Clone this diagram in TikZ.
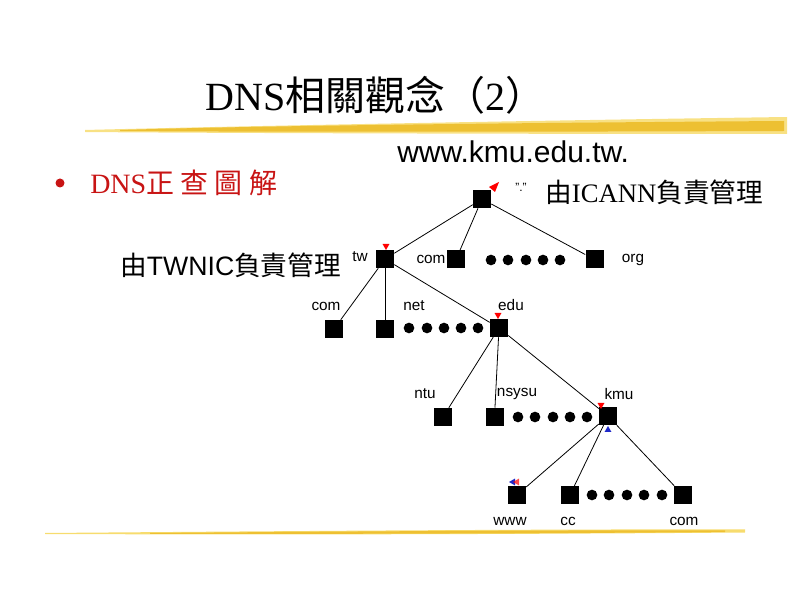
\documentclass[tikz,border=0pt]{standalone}
\usepackage{fontspec}
\usepackage{tikz}
\usetikzlibrary{positioning,shapes.geometric}
\setmainfont{Liberation Serif}
\setsansfont{Liberation Sans}
\newfontfamily\cjk{Noto Sans CJK TC}
\definecolor{titlered}{RGB}{200,20,20}
\definecolor{brushgold}{RGB}{236,186,36}
\definecolor{brushlight}{RGB}{247,220,110}
\definecolor{tipblue}{RGB}{30,40,200}
\newcommand{\zh}[1]{{\cjk #1}}
\tikzset{
  dom/.style={rectangle,fill=black,minimum size=13.5pt,inner sep=0pt},
  bead/.style={circle,fill=black,minimum size=8pt,inner sep=0pt},
  lab/.style={font=\sffamily\fontsize{11.5}{13}\selectfont,inner sep=0pt},
  note/.style={font=\fontsize{20}{24}\selectfont,anchor=west,inner sep=0pt},
  tipdown/.style={regular polygon,regular polygon sides=3,shape border rotate=180,fill=#1,minimum size=6pt,inner sep=0pt},
  tipup/.style={regular polygon,regular polygon sides=3,fill=#1,minimum size=6pt,inner sep=0pt},
  edge/.style={line width=0.6pt}
}
\begin{document}
\begin{tikzpicture}[x=0.75pt,y=-0.75pt]
  \useasboundingbox (0,0) rectangle (794,595);
  % brush strokes
  \fill[brushlight,opacity=0.85] (85,130) .. controls (200,127) and (500,121) .. (787,117) -- (787,134) .. controls (500,134) and (200,133) .. (85,132) -- cycle;
  \fill[brushgold,opacity=0.85] (120,130) .. controls (250,126) and (500,123) .. (784,121) -- (784,131) .. controls (500,132) and (250,132) .. (120,131) -- cycle;
  \fill[brushlight] (45,533) .. controls (300,531) and (550,529) .. (745,529.5) -- (745,532.5) .. controls (550,534) and (300,535) .. (45,534) -- cycle;
  \fill[brushgold,opacity=0.8] (150,533) .. controls (400,531) and (600,530) .. (725,530.5) -- (725,532) .. controls (600,533) and (400,534) .. (150,534) -- cycle;
  % texts
  \node[note,font=\fontsize{30}{34}\selectfont] (title) at (205,95) {DNS\zh{相關觀念（}2\zh{）}};
  \fill[titlered] (60,183) circle (4.5);
  \node[note,text=titlered,font=\fontsize{21}{24}\selectfont] (topic) at (90,183) {DNS\zh{正 查 圖 解}};
  \node[note,font=\sffamily\fontsize{22.5}{26}\selectfont] (query) at (397,152) {www.kmu.edu.tw.};
  \node[note] (icann) at (545,192) {\zh{由}ICANN\zh{負責管理}};
  \node[note] (twnic) at (120,265) {\zh{由}\textsf{TWNIC}\zh{負責管理}};
  % tree
  \node[dom] (root) at (482,199) {};
  \node[dom] (tw) at (385,259) {}; \node[dom] (com) at (456,259.5) {}; \node[dom] (org) at (594.5,259.5) {};
  \node[dom] (twcom) at (334,329) {}; \node[dom] (net) at (385,329) {}; \node[dom] (edu) at (499,328) {};
  \node[dom] (ntu) at (443,417) {}; \node[dom] (nsysu) at (494.5,417) {}; \node[dom] (kmu) at (608,416) {};
  \node[dom] (www) at (517,495) {}; \node[dom] (cc) at (570,495) {}; \node[dom] (kmucom) at (683,495) {};
  \foreach \x [count=\i] in {491,508,526,543,560} \node[bead] (a\i) at (\x,260) {};
  \foreach \x [count=\i] in {409,427,444,461,478} \node[bead] (b\i) at (\x,328) {};
  \foreach \x [count=\i] in {518,535,553,570,587} \node[bead] (c\i) at (\x,417) {};
  \foreach \x [count=\i] in {592,609,627,644,662} \node[bead] (d\i) at (\x,495) {};
  \draw[edge] (root) -- (tw); \draw[edge] (root) -- (com); \draw[edge] (root) -- (org);
  \draw[edge] (tw) -- (twcom); \draw[edge] (tw) -- (net); \draw[edge] (tw) -- (edu);
  \draw[edge] (edu) -- (ntu); \draw[edge] (edu) -- (nsysu); \draw[edge] (edu) -- (kmu);
  \draw[edge] (kmu) -- (www); \draw[edge] (kmu) -- (cc); \draw[edge] (kmu) -- (kmucom);
  % labels
  \node[lab,font=\sffamily\fontsize{9}{10}\selectfont] (rootl) at (521,187) {"."};
  \node[lab] (twl) at (360,257) {tw}; \node[lab] (coml) at (431,259) {com}; \node[lab] (orgl) at (633,260) {org};
  \node[lab] (twcoml) at (326,306) {com}; \node[lab] (netl) at (414,306) {net}; \node[lab] (edul) at (511,305) {edu};
  \node[lab] (ntul) at (425,394) {ntu}; \node[lab] (nsysul) at (517,394) {nsysu}; \node[lab] (kmul) at (619,394) {kmu};
  \node[lab] (wwwl) at (510,521) {www}; \node[lab] (ccl) at (568,521) {cc}; \node[lab] (kmucoml) at (684,521) {com};
  % query markers
  \fill[red] (499,182) -- (489,187) -- (495,192) -- cycle;
  \node[tipdown=red] (m2) at (386,246) {};
  \node[tipdown=red] (m3) at (498,315) {};
  \node[tipdown=red] (m4) at (601,405) {};
  \node[tipup=tipblue] (m5) at (608,430) {};
  \node[tipup=tipblue,shape border rotate=90] (m6) at (513,482) {};
  \node[tipup=red,shape border rotate=90,opacity=0.7] (m7) at (517,482) {};
\end{tikzpicture}
\end{document}
